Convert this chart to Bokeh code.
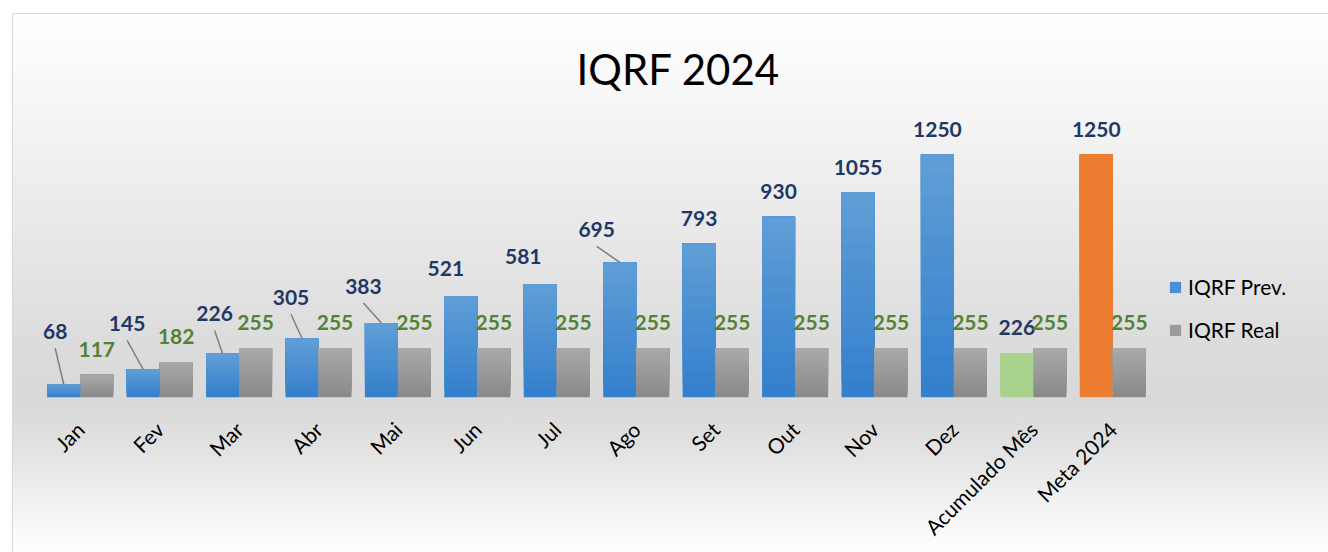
from bokeh.plotting import figure
from bokeh.models import ColumnDataSource, Range1d, Legend, LegendItem, FixedTicker
from bokeh.transform import dodge
from bokeh.core.properties import value
from bokeh.embed import file_html
from bokeh.resources import INLINE
import math

# ---------------- data ----------------
categories = ["Jan", "Fev", "Mar", "Abr", "Mai", "Jun", "Jul", "Ago", "Set", "Out", "Nov", "Dez",
              "Acumulado Mês", "Meta 2024"]
prev_values = [68, 145, 226, 305, 383, 521, 581, 695, 793, 930, 1055, 1250, 226, 1250]
real_values = [117, 182, 255, 255, 255, 255, 255, 255, 255, 255, 255, 255, 255, 255]
series_names = ["IQRF Prev.", "IQRF Real"]
title_text = "IQRF 2024"

# ---------------- styling ----------------
BLUE_BOTTOM, BLUE_TOP = (0x35, 0x80, 0xcc), (0x5e, 0x9d, 0xd6)
GREY_BOTTOM, GREY_TOP = (0x8a, 0x8a, 0x8a), (0xa8, 0xa8, 0xa8)
GREEN, ORANGE = "#a9d18e", "#ed7d31"
prev_kind = ["grad"] * 12 + [GREEN, ORANGE]
NAVY, LGREEN = "#1f3864", "#548235"
FONT = "Lato"
N_LAYERS = 12

# manual label nudges of the Prev labels (pixels: dx right, dy from bar top, negative = up)
prev_label_dx = [-8.5, -16, -8, -11, -18, -15, -17, -23, 0, 0, 0, 0, 0, 0]
prev_label_dy = [-53, -46, -40, -41, -37, -28, -28, -33, -25, -25, -25, -25, -26, -25]
prev_leader = [True, True, True, True, True, False, False, True, False, False, False, False, False, False]
real_label_dy = -25.5

W, H = 1328, 552
FL, FT, FB = 40, 110, 397
CAT_AREA_W = 1112            # pixels used by the 14 categories
Y_MAX = 1476
px_per_cat = CAT_AREA_W / len(categories)
units_per_px = Y_MAX / (FB - FT)
X_MAX = (W - FL) / px_per_cat
BAR_W = 0.4155
OFF = 0.2078


def mix(c0, c1, t):
    return "#%02x%02x%02x" % tuple(int(round(a + (b - a) * t)) for a, b in zip(c0, c1))


centers = [i + 0.5 for i in range(len(categories))]

p = figure(x_range=Range1d(0, X_MAX), y_range=Range1d(0, Y_MAX),
           width=W, height=H, output_backend="svg", toolbar_location=None,
           y_axis_location=None,
           min_border_left=FL, min_border_right=0, min_border_top=FT, min_border_bottom=H - FB,
           border_fill_color=None, background_fill_color=None, outline_line_color=None)

p.styles = {
    "background-color": "#ffffff",
    "background-image": ("linear-gradient(#d9d9d9,#d9d9d9), linear-gradient(#d9d9d9,#d9d9d9), "
                         "linear-gradient(to bottom, #ffffff 0px, #f6f6f6 90px, #e8e8e8 220px, "
                         "#dcdcdc 330px, #d9d9d9 390px, #e3e3e3 440px, #f2f2f2 490px, #fefefe 535px)"),
    "background-position": "12px 13px, 12px 13px, 12px 13px",
    "background-size": "1316px 1px, 1px 539px, 1316px 539px",
    "background-repeat": "no-repeat",
}

# bars: layered vbars give a vertical gradient (dark at the base, light at the top)
r_prev = r_real = None
for k in range(N_LAYERS):
    t = k / (N_LAYERS - 1)
    pcols = [mix(BLUE_BOTTOM, BLUE_TOP, t) if kind == "grad" else kind for kind in prev_kind]
    src = ColumnDataSource(dict(
        xc=centers,
        prev=prev_values, prev_b=[v * k / N_LAYERS for v in prev_values],
        real=real_values, real_b=[v * k / N_LAYERS for v in real_values],
        pcol=pcols))
    rp = p.vbar(x=dodge("xc", -OFF), top="prev", bottom="prev_b", width=BAR_W,
                source=src, fill_color="pcol", line_color=None)
    rr = p.vbar(x=dodge("xc", OFF), top="real", bottom="real_b", width=BAR_W,
                source=src, fill_color=mix(GREY_BOTTOM, GREY_TOP, t), line_color=None)
    if k == N_LAYERS // 2:
        r_prev, r_real = rp, rr

# labels for Prev
plx, ply, ltxt = [], [], []
sx0, sy0, sx1, sy1 = [], [], [], []
for i, (c, v) in enumerate(zip(centers, prev_values)):
    lx = c - OFF + prev_label_dx[i] / px_per_cat
    ly = v - prev_label_dy[i] * units_per_px
    plx.append(lx)
    ply.append(ly)
    ltxt.append(str(v))
    if prev_leader[i]:
        sx0.append(c - OFF)
        sy0.append(v)
        sx1.append(lx)
        sy1.append(ly - 17 * units_per_px)

p.segment(x0=sx0, y0=sy0, x1=sx1, y1=sy1, line_color="#7f7f7f", line_width=1.5)

p.text(x=plx, y=ply, text=ltxt, text_align="center", text_baseline="middle",
       text_font=value(FONT), text_font_style="bold", text_font_size="21px", text_color=NAVY)

rlx = [c + OFF for c in centers]
rly = [v - real_label_dy * units_per_px for v in real_values]
p.text(x=rlx, y=rly, text=[str(v) for v in real_values], text_align="center", text_baseline="middle",
       text_font=value(FONT), text_font_style="bold", text_font_size="21px", text_color=LGREEN)

# category axis
ax = p.xaxis[0]
ax.ticker = FixedTicker(ticks=centers)
ax.major_label_overrides = {c: name for c, name in zip(centers, categories)}
ax.axis_line_color = None
ax.major_tick_line_color = None
ax.minor_tick_line_color = None
ax.major_tick_out = 0
ax.major_tick_in = 0
ax.major_label_orientation = math.pi / 4
ax.major_label_standoff = 28
ax.major_label_text_font = FONT
ax.major_label_text_font_size = "21px"
ax.major_label_text_color = "#000000"
p.xgrid.grid_line_color = None
p.ygrid.grid_line_color = None

# title
p.title.text = title_text
p.title.align = "left"
p.title.offset = 536
p.title.standoff = 34
p.title.text_font = FONT
p.title.text_font_style = "normal"
p.title.text_font_size = "42px"
p.title.text_color = "#000000"

legend = Legend(items=[LegendItem(label=series_names[0], renderers=[r_prev], index=0),
                       LegendItem(label=series_names[1], renderers=[r_real], index=0)],
                location=(1128, 55), orientation="vertical",
                glyph_width=14, glyph_height=14, label_height=25, spacing=18,
                padding=0, margin=0, label_standoff=6,
                label_text_font=FONT, label_text_font_size="21px", label_text_color="#000000",
                border_line_color=None, background_fill_alpha=0)
p.add_layout(legend)

open("out.html", "w").write(file_html(p, INLINE))
